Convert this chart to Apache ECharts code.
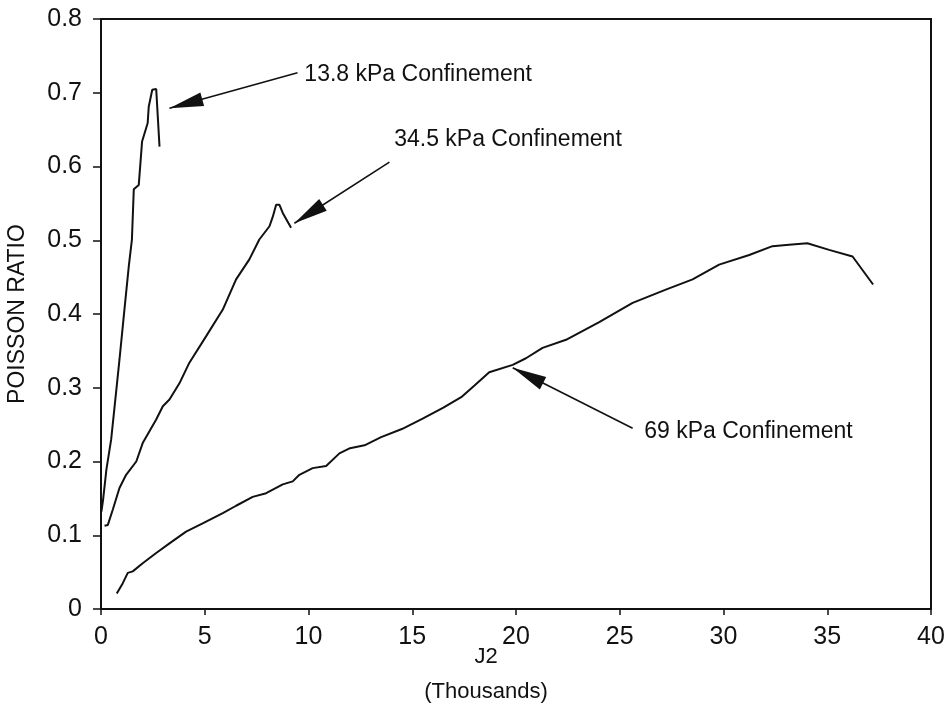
<!DOCTYPE html>
<html>
<head>
<meta charset="utf-8">
<title>Poisson ratio vs J2</title>
<script src="https://cdn.jsdelivr.net/npm/echarts@6/dist/echarts.min.js"></script>
<style>
  html, body { margin: 0; padding: 0; background: #fff; }
  #chart { width: 952px; height: 720px; }
</style>
</head>
<body>
<div id="chart"></div>
<script>
// J2 (thousands) and Poisson ratio, one pair of arrays per confinement level
const j2_13_8 = [0.02, 0.10, 0.26, 0.49, 0.69, 0.89, 1.08, 1.34, 1.49, 1.58, 1.82, 1.98, 2.25, 2.30, 2.47, 2.66, 2.82];
const nu_13_8 = [0.132, 0.148, 0.189, 0.230, 0.284, 0.338, 0.392, 0.465, 0.501, 0.569, 0.575, 0.634, 0.659, 0.681, 0.704, 0.705, 0.627];

const j2_34_5 = [0.17, 0.33, 0.57, 0.89, 1.21, 1.70, 2.01, 2.66, 2.98, 3.30, 3.78, 4.26, 5.07, 5.87, 6.51, 7.15, 7.63, 8.12, 8.28, 8.44, 8.60, 8.76, 9.16];
const nu_34_5 = [0.113, 0.114, 0.135, 0.164, 0.182, 0.200, 0.225, 0.257, 0.275, 0.284, 0.306, 0.334, 0.370, 0.406, 0.447, 0.474, 0.501, 0.519, 0.532, 0.548, 0.548, 0.537, 0.517];

const j2_69 = [0.76, 1.05, 1.29, 1.53, 2.01, 2.66, 3.30, 4.10, 4.90, 5.87, 6.51, 7.31, 7.96, 8.76, 9.24, 9.56, 10.20, 10.85, 11.49, 12.0, 12.7, 13.5, 14.5, 15.5, 16.5, 17.4, 18.0, 18.71, 19.84, 20.48, 21.28, 22.41, 24.01, 25.62, 27.22, 28.51, 29.79, 31.24, 32.36, 33.16, 34.04, 35.09, 36.22, 37.21];
const nu_69 = [0.021, 0.035, 0.049, 0.051, 0.062, 0.076, 0.089, 0.105, 0.116, 0.130, 0.140, 0.152, 0.157, 0.169, 0.173, 0.182, 0.191, 0.194, 0.211, 0.218, 0.222, 0.233, 0.244, 0.258, 0.273, 0.288, 0.303, 0.321, 0.331, 0.340, 0.354, 0.365, 0.389, 0.415, 0.433, 0.447, 0.467, 0.480, 0.492, 0.494, 0.496, 0.487, 0.478, 0.440];

const seriesNames = ['13.8 kPa Confinement', '34.5 kPa Confinement', '69 kPa Confinement'];
const xTicks = [0, 5, 10, 15, 20, 25, 30, 35, 40];
const yTicks = [0, 0.1, 0.2, 0.3, 0.4, 0.5, 0.6, 0.7, 0.8];

const zip = (xs, ys) => xs.map((x, i) => [x, ys[i]]);

const ink = '#111';
const font = '"Liberation Sans", Arial, sans-serif';

// Leader arrows: tail near the caption, head pointing at the curve (data coords)
function callout(text, tail, tip, textAt) {
  return {
    markLine: {
      silent: true,
      animation: false,
      symbol: ['none', 'triangle'],
      lineStyle: { color: ink, width: 1.6, type: 'solid' },
      label: { show: false },
      data: [[
        { coord: tail, symbol: 'none' },
        { coord: tip, symbol: 'triangle', symbolSize: [14, 34], symbolOffset: [0, 17] }
      ]]
    },
    markPoint: {
      silent: true,
      animation: false,
      symbol: 'circle',
      symbolSize: 0,
      data: [{ coord: textAt, value: 0 }],
      label: {
        show: true,
        position: 'right',
        distance: 0,
        formatter: text,
        color: ink,
        fontFamily: font,
        fontSize: 23
      }
    }
  };
}

const callouts = [
  callout(seriesNames[0], [9.47, 0.727], [3.30, 0.679], [9.80, 0.724]),
  callout(seriesNames[1], [13.90, 0.606], [9.32, 0.523], [14.13, 0.636]),
  callout(seriesNames[2], [25.62, 0.245], [19.84, 0.327], [26.18, 0.240])
];

const curves = [zip(j2_13_8, nu_13_8), zip(j2_34_5, nu_34_5), zip(j2_69, nu_69)];

const chart = echarts.init(document.getElementById('chart'), null, { renderer: 'canvas' });
chart.setOption({
  animation: false,
  backgroundColor: '#fff',
  grid: {
    left: 101, right: 21, top: 19, bottom: 111,
    containLabel: false,
    outerBoundsMode: 'none',
    show: true, borderColor: ink, borderWidth: 2, backgroundColor: 'transparent'
  },
  xAxis: {
    type: 'value',
    min: xTicks[0], max: xTicks[xTicks.length - 1], interval: 5,
    name: 'J2\n(Thousands)',
    nameLocation: 'middle',
    nameMoveOverlap: false,
    nameGap: 30,
    nameTextStyle: {
      color: ink, fontFamily: font, fontSize: 22, lineHeight: 35,
      verticalAlign: 'top', padding: [0, 60, 0, 0]
    },
    axisLine: { show: true, lineStyle: { color: ink, width: 2 } },
    axisTick: { show: true, inside: false, length: 6, lineStyle: { color: ink, width: 1.5 } },
    axisLabel: { color: ink, fontFamily: font, fontSize: 25, margin: 16 },
    splitLine: { show: false }
  },
  yAxis: {
    type: 'value',
    min: yTicks[0], max: yTicks[yTicks.length - 1], interval: 0.1,
    name: 'POISSON RATIO',
    nameLocation: 'middle',
    nameMoveOverlap: false,
    nameGap: 72,
    nameTextStyle: { color: ink, fontFamily: font, fontSize: 23 },
    axisLine: { show: true, lineStyle: { color: ink, width: 2 } },
    axisTick: { show: true, inside: false, length: 8, lineStyle: { color: ink, width: 1.5 } },
    axisLabel: { color: ink, fontFamily: font, fontSize: 25, margin: 19 },
    splitLine: { show: false }
  },
  series: curves.map((data, i) => Object.assign({
    name: seriesNames[i],
    type: 'line',
    data: data,
    showSymbol: false,
    symbol: 'none',
    smooth: false,
    lineStyle: { color: ink, width: 2 },
    z: 3
  }, callouts[i]))
});
</script>
</body>
</html>
